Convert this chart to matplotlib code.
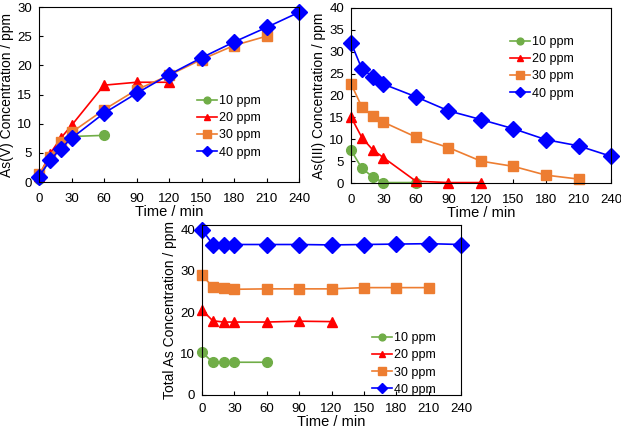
import matplotlib.pyplot as plt

plt.rcParams['font.family'] = ['Liberation Sans', 'DejaVu Sans']

# time points (min)
t10 = [0, 10, 20, 30, 60]
t20 = [0, 10, 20, 30, 60, 90, 120]
t30 = [0, 10, 20, 30, 60, 90, 120, 150, 180, 210]
t40 = [0, 10, 20, 30, 60, 90, 120, 150, 180, 210, 240]

# As(V) concentration (ppm)
asv_10 = [0.5, 4.0, 6.0, 7.8, 8.0]
asv_20 = [1.0, 4.8, 7.5, 9.7, 16.6, 17.1, 17.1]
asv_30 = [1.3, 4.3, 6.8, 8.5, 12.4, 15.8, 18.3, 21.0, 23.4, 25.0]
asv_40 = [0.9, 3.7, 5.7, 7.5, 11.8, 15.2, 18.4, 21.3, 24.0, 26.5, 29.1]

# As(III) concentration (ppm)
as3_10 = [7.5, 3.4, 1.4, 0.1, 0.1]
as3_20 = [15.1, 10.4, 7.6, 5.8, 0.4, 0.1, 0.1]
as3_30 = [22.7, 17.4, 15.3, 13.9, 10.5, 8.1, 5.0, 3.8, 1.8, 0.9]
as3_40 = [32.1, 26.1, 24.3, 22.6, 19.7, 16.5, 14.5, 12.4, 9.9, 8.5, 6.1]

# Total As concentration (ppm)
tot_10 = [10.3, 7.9, 7.9, 7.9, 7.9]
tot_20 = [20.5, 17.9, 17.6, 17.6, 17.6, 17.8, 17.7]
tot_30 = [29.0, 26.0, 25.8, 25.5, 25.6, 25.6, 25.6, 25.9, 25.9, 25.9]
tot_40 = [39.9, 36.3, 36.3, 36.3, 36.3, 36.3, 36.2, 36.3, 36.4, 36.5, 36.3]

labels = ['10 ppm', '20 ppm', '30 ppm', '40 ppm']
colors = ['#70AD47', '#FF0000', '#ED7D31', '#0000FF']
markers = ['o', '^', 's', 'D']
msizes = [7, 7, 7.5, 8]
times = [t10, t20, t30, t40]
xticks = [0, 30, 60, 90, 120, 150, 180, 210, 240]

fig = plt.figure(figsize=(6.21, 4.30), dpi=100)

ax1 = fig.add_axes([0.0628, 0.5767, 0.4187, 0.4070])
ax2 = fig.add_axes([0.5652, 0.5744, 0.4187, 0.4070])
ax3 = fig.add_axes([0.3253, 0.0814, 0.4171, 0.3953])

panels = [
    (ax1, [asv_10, asv_20, asv_30, asv_40], 'As(V) Concentration / ppm', 30, 5, (0.588, 0.526), 8),
    (ax2, [as3_10, as3_20, as3_30, as3_40], 'As(III) Concentration / ppm', 40, 5, (0.592, 0.869), 8),
    (ax3, [tot_10, tot_20, tot_30, tot_40], 'Total As Concentration / ppm', 41, 10, (0.637, 0.40), 6),
]

for ax, series, ylab, ymax, ystep, legpos, xpad in panels:
    for t, y, lab, c, m, ms in zip(times, series, labels, colors, markers, msizes):
        ax.plot(t, y, color=c, marker=m, markersize=ms, linewidth=1.2, label=lab, clip_on=False)
    ax.set_xlim(0, 240)
    ax.set_ylim(0, ymax)
    ax.set_xticks(xticks)
    ax.set_yticks(range(0, int(ymax) + 1, ystep))
    ax.tick_params(axis='both', direction='in', length=3, labelsize=9.5, top=False, right=False)
    ax.tick_params(axis='x', pad=xpad)
    ax.tick_params(axis='y', pad=5)
    ax.set_xlabel('Time / min', fontsize=10.5, labelpad=0)
    ax.set_ylabel(ylab, fontsize=10, labelpad=2)
    for s in ax.spines.values():
        s.set_linewidth(0.8)
    leg = ax.legend(loc='upper left', bbox_to_anchor=legpos, frameon=False, fontsize=9,
                    markerscale=0.7, handlelength=1.6, handletextpad=0.15, labelspacing=0.42,
                    borderaxespad=0)

fig.savefig('out.png', dpi=100)
